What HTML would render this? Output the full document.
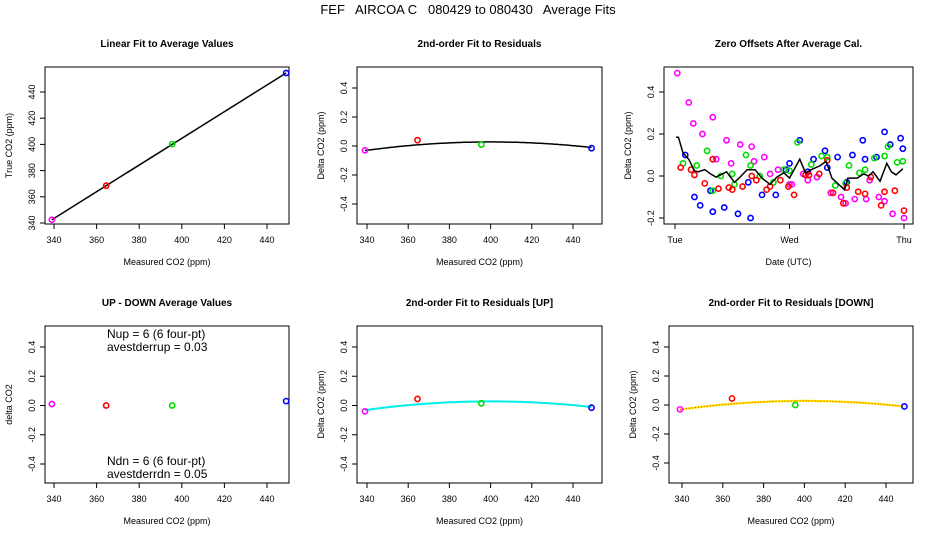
<!DOCTYPE html>
<html><head><meta charset="utf-8"><style>
body{margin:0;background:#fff}
svg{display:block;font-family:"Liberation Sans",sans-serif}
</style></head><body>
<svg id="c" width="936" height="540" viewBox="0 0 936 540">
<text x="468" y="14" text-anchor="middle" font-size="13" xml:space="preserve" style="white-space:pre">FEF   AIRCOA C   080429 to 080430   Average Fits</text>
</svg>
<script>
// ---- data ----
const stdMeasured = [339, 364.5, 395.5, 449];
const stdTrue = [342.5, 368.5, 400.2, 454.5];
const stdColors = ['#ff00ff','#ff0000','#00dd00','#0000ff'];
const resid = [-0.03, 0.04, 0.01, -0.015];
const residUp = [-0.04, 0.045, 0.015, -0.015];
const residDn = [-0.03, 0.045, 0.0, -0.01];
const upDown = [0.01, 0.0, 0.0, 0.03];
const fitCoef = [-1.6e-5, 400, 0.028];
const magT = [0.02,0.12,0.16,0.24,0.33,0.36,0.45,0.49,0.57,0.67,0.69,0.78,0.83,0.90,1.0,1.02,1.12,1.16,1.24,1.36,1.45,1.49,1.57,1.67,1.70,1.78,1.83,1.90,2.0];
const magV = [0.49,0.35,0.25,0.20,0.28,0.08,0.17,0.06,0.15,0.14,0.07,0.09,0.01,0.03,-0.04,-0.04,0.01,-0.02,-0.005,-0.08,-0.10,-0.13,-0.11,-0.11,-0.02,-0.10,-0.12,-0.18,-0.2];
const bluT = [0.09,0.17,0.22,0.31,0.33,0.43,0.55,0.64,0.66,0.76,0.88,0.97,1.0,1.09,1.16,1.21,1.31,1.33,1.42,1.50,1.55,1.64,1.66,1.76,1.83,1.88,1.97,1.99];
const bluV = [0.10,-0.10,-0.14,-0.07,-0.17,-0.15,-0.18,-0.03,-0.2,-0.09,-0.09,0.03,0.06,0.17,0.02,0.08,0.12,0.04,0.09,-0.03,0.10,0.17,0.08,0.09,0.21,0.15,0.18,0.13];
const grnT = [0.07,0.19,0.28,0.33,0.40,0.50,0.52,0.62,0.66,0.74,0.86,0.95,1.0,1.07,1.19,1.28,1.33,1.40,1.49,1.52,1.61,1.66,1.74,1.83,1.86,1.94,1.99];
const grnV = [0.06,0.05,0.12,-0.07,0.0,0.01,-0.04,0.10,0.05,0.0,-0.03,0.03,0.025,0.16,0.055,0.095,0.09,-0.045,-0.035,0.05,0.015,0.03,0.085,0.095,0.14,0.065,0.07];
const redT = [0.05,0.14,0.17,0.26,0.33,0.38,0.47,0.50,0.59,0.67,0.71,0.80,0.83,0.92,0.99,1.04,1.14,1.17,1.26,1.33,1.38,1.47,1.50,1.60,1.66,1.71,1.80,1.83,1.92,2.0];
const redV = [0.04,0.03,0.005,-0.035,0.08,-0.06,-0.055,-0.065,-0.05,0.0,-0.02,-0.065,-0.05,-0.02,-0.05,-0.09,0.005,0.005,0.01,0.075,-0.08,-0.13,-0.055,-0.075,-0.085,-0.005,-0.14,-0.075,-0.07,-0.165];
const avgT = [0.01,0.03,0.07,0.12,0.17,0.20,0.26,0.31,0.36,0.45,0.52,0.56,0.63,0.70,0.76,0.83,0.89,0.95,1.0,1.05,1.09,1.14,1.19,1.27,1.32,1.37,1.43,1.48,1.51,1.59,1.65,1.69,1.73,1.79,1.85,1.89,1.93,1.99];
const avgV = [0.185,0.185,0.11,0.08,0.025,0.02,0.03,0.01,-0.005,0.02,-0.03,-0.01,0.03,0.03,-0.01,-0.04,-0.005,0.015,-0.01,0.04,0.08,0.015,0.03,0.05,0.07,-0.01,-0.04,-0.065,-0.01,-0.01,0.01,0.0,0.02,-0.025,0.06,0.02,0.005,0.035];
const dayLabels = ['Tue','Wed','Thu'];
const co2Ticks = [340,360,380,400,420,440];
const trueTicks = [340,360,380,400,420,440];
const deltaTicks = [-0.4,-0.2,0.0,0.2,0.4];
const zeroTicks = [-0.2,0.0,0.2,0.4];

const svg = document.getElementById('c');
const NS = 'http://www.w3.org/2000/svg';
function mk(tag, attrs, parent){const e=document.createElementNS(NS,tag);for(const k in attrs)e.setAttribute(k,attrs[k]);(parent||svg).appendChild(e);return e;}
function lin(d0,d1,r0,r1){return v=>r0+(v-d0)*(r1-r0)/(d1-d0);}
function fmt(v){return v===0?'0.0':v.toFixed(1);}

function panel(o){
  const g = mk('g',{});
  
  
  const b = mk('rect',{x:o.L,y:o.T,width:o.R-o.L,height:o.B-o.T,fill:'none',stroke:'#000','stroke-width':1},g);
  
  
  const t = mk('text',{x:(o.L+o.R)/2,y:o.T-20,'text-anchor':'middle','font-size':10,'font-weight':'bold'},g);
  t.textContent=o.title;
  
  
  const xl = mk('text',{x:(o.L+o.R)/2,y:o.B+41,'text-anchor':'middle','font-size':9},g);
  xl.textContent=o.xlab;
  
  
  const yl = mk('text',{x:0,y:0,'text-anchor':'middle','font-size':9,transform:`translate(${o.L-33},${(o.T+o.B)/2}) rotate(-90)`},g);
  yl.textContent=o.ylab;
  
  
  const ax = mk('g',{},g);
  
  
  o.xt.forEach((v,i)=>{const px=o.x(v);mk('line',{x1:px,x2:px,y1:o.B,y2:o.B+5,stroke:'#000'},ax);
    const tx=mk('text',{x:px,y:o.B+19,'text-anchor':'middle','font-size':9},ax);tx.textContent=o.xtl?o.xtl[i]:v;});
  mk('line',{x1:o.x(o.xt[0]),x2:o.x(o.xt[o.xt.length-1]),y1:o.B,y2:o.B,stroke:'#000'},ax);
  const ay = mk('g',{},g);
  
  
  o.yt.forEach(v=>{const py=o.y(v);mk('line',{x1:o.L-5,x2:o.L,y1:py,y2:py,stroke:'#000'},ay);
    const tx=mk('text',{x:0,y:0,'text-anchor':'middle','font-size':9,transform:`translate(${o.L-10},${py}) rotate(-90)`},ay);tx.textContent=o.ytf?o.ytf(v):v;});
  mk('line',{x1:o.L,x2:o.L,y1:o.y(o.yt[0]),y2:o.y(o.yt[o.yt.length-1]),stroke:'#000'},ay);
  return g;
}
function pts(g,xs,ys,xf,yf,colors,name){
  xs.forEach((v,i)=>{const c=mk('circle',{cx:xf(v),cy:yf(ys[i]),r:2.6,fill:'none',stroke:Array.isArray(colors)?colors[i]:colors,'stroke-width':1.6},g);
    
    });
}
function quad(x){return fitCoef[0]*(x-fitCoef[1])*(x-fitCoef[1])+fitCoef[2];}
function curve(g,xf,yf,stroke,w,dash,name){
  let d='';for(let x=339;x<=449;x+=1)d+=(d?'L':'M')+xf(x).toFixed(1)+','+yf(quad(x)).toFixed(1);
  const p=mk('path',{d,fill:'none',stroke,'stroke-width':w,'stroke-dasharray':dash||'none'},g);
  
  
}

// Panel 1
{const x=lin(340,440,54,267),y=lin(340,440,223,92);
const g=panel({name:'linear-fit-panel',L:45,R:289,T:67,B:224,x,y,xt:co2Ticks,yt:trueTicks,title:'Linear Fit to Average Values',xlab:'Measured CO2 (ppm)',ylab:'True CO2 (ppm)'});
const l=mk('line',{x1:x(339),y1:y(342.5),x2:x(449),y2:y(454.5),stroke:'#000','stroke-width':1.5},g);


pts(g,stdMeasured,stdTrue,x,y,stdColors,'standard-point');}

// Panel 2
{const x=lin(340,440,367,573),y=lin(-0.4,0.4,204,88);
const g=panel({name:'residual-fit-panel',L:357,R:602,T:67,B:224,x,y,xt:co2Ticks,yt:deltaTicks,ytf:fmt,title:'2nd-order Fit to Residuals',xlab:'Measured CO2 (ppm)',ylab:'Delta CO2 (ppm)'});
curve(g,x,y,'#000',1.5,null,'residual-fit-curve');
pts(g,stdMeasured,resid,x,y,stdColors,'residual-point');}

// Panel 3
{const x=lin(0,2,675,904),y=lin(0,0.2,176,134);
const g=panel({name:'zero-offsets-panel',L:664,R:913,T:67,B:224,x,y,xt:[0,1,2],xtl:dayLabels,yt:zeroTicks,ytf:fmt,title:'Zero Offsets After Average Cal.',xlab:'Date (UTC)',ylab:'Delta CO2 (ppm)'});
pts(g,magT,magV,x,y,'#ff00ff','offset-point-std1');
pts(g,bluT,bluV,x,y,'#0000ff','offset-point-std4');
pts(g,grnT,grnV,x,y,'#00dd00','offset-point-std3');
pts(g,redT,redV,x,y,'#ff0000','offset-point-std2');
let d='';avgT.forEach((t,i)=>d+=(i?'L':'M')+x(t).toFixed(1)+','+y(avgV[i]).toFixed(1));
const p=mk('path',{d,fill:'none',stroke:'#000','stroke-width':1.5},g);

}

// Panel 4
{const x=lin(340,440,54,267),y=lin(-0.4,0.4,464,347);
const g=panel({name:'up-down-panel',L:45,R:289,T:326,B:483,x,y,xt:co2Ticks,yt:deltaTicks,ytf:fmt,title:'UP - DOWN Average Values',xlab:'Measured CO2 (ppm)',ylab:'delta CO2'});
pts(g,stdMeasured,upDown,x,y,stdColors,'up-down-point');
[['Nup = 6 (6 four-pt)',338],['avestderrup =  0.03',351],['Ndn = 6 (6 four-pt)',465],['avestderrdn =  0.05',478]].forEach(a=>{
const t=mk('text',{x:107,y:a[1],'font-size':12},g);t.textContent=a[0];

});}

// Panel 5
{const x=lin(340,440,367,573),y=lin(-0.4,0.4,464,347);
const g=panel({name:'residual-fit-up-panel',L:357,R:602,T:326,B:483,x,y,xt:co2Ticks,yt:deltaTicks,ytf:fmt,title:'2nd-order Fit to Residuals [UP]',xlab:'Measured CO2 (ppm)',ylab:'Delta CO2 (ppm)'});
curve(g,x,y,'#000',1.2,'4 4','residual-fit-curve');
curve(g,x,y,'#00eeee',2,null,'up-fit-curve');
pts(g,stdMeasured,residUp,x,y,stdColors,'residual-up-point');}

// Panel 6
{const x=lin(340,440,682,886),y=lin(-0.4,0.4,463,347);
const g=panel({name:'residual-fit-down-panel',L:669,R:913,T:326,B:483,x,y,xt:co2Ticks,yt:deltaTicks,ytf:fmt,title:'2nd-order Fit to Residuals [DOWN]',xlab:'Measured CO2 (ppm)',ylab:'Delta CO2 (ppm)'});
curve(g,x,y,'#000',1.2,'6 3','residual-fit-curve');
curve(g,x,y,'#ffee00',2.2,null,'down-fit-curve');
curve(g,x,y,'#ff2200',1,'1 2','down-fit-dots');
pts(g,stdMeasured,residDn,x,y,stdColors,'residual-down-point');}
</script>
</body></html>
